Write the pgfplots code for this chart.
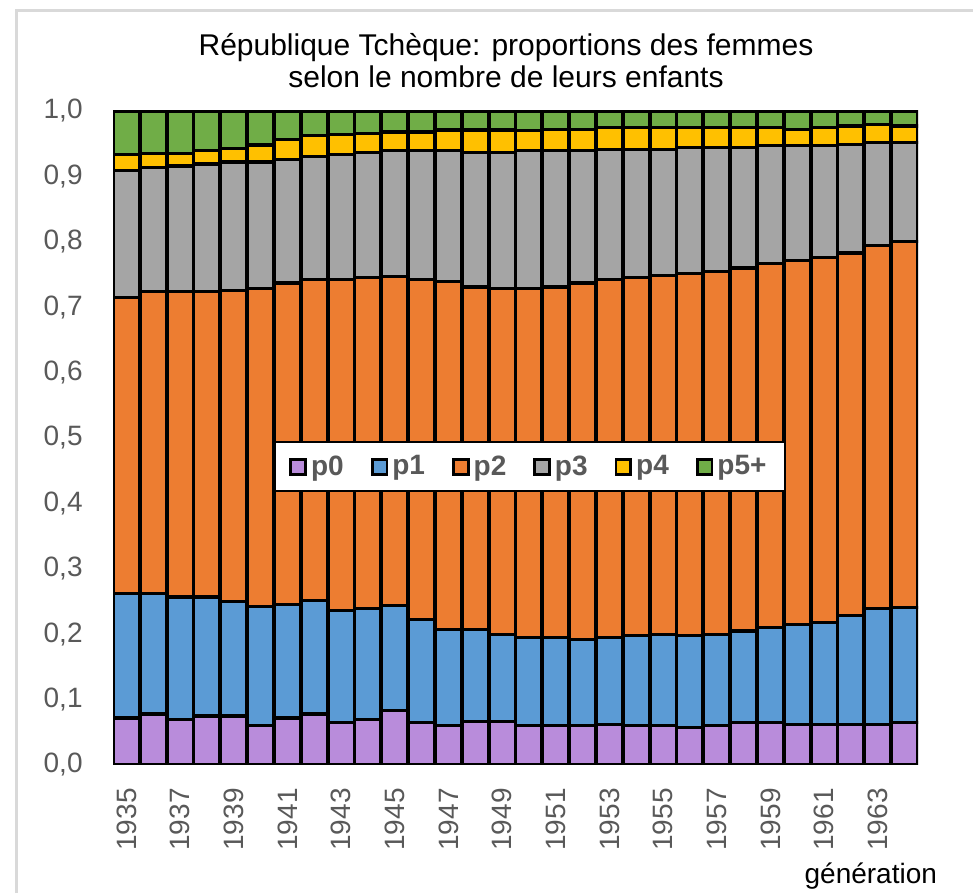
\documentclass[border=0pt]{standalone}
\usepackage{fontspec}
\setmainfont{Liberation Sans}
\usepackage{pgfplots}
\usepackage{pgfplotstable}
\pgfplotsset{compat=1.18}
\definecolor{cp0}{HTML}{B98CDB}
\definecolor{cp1}{HTML}{5B9BD5}
\definecolor{cp2}{HTML}{ED7D31}
\definecolor{cp3}{HTML}{A5A5A5}
\definecolor{cp4}{HTML}{FFC000}
\definecolor{cp5}{HTML}{70AD47}
\definecolor{txt}{HTML}{595959}
\definecolor{framec}{HTML}{D9D9D9}
\definecolor{axl}{HTML}{B0B0B0}
\pgfplotstableread{
year p0 p1 p2 p3 p4 p5
1935 0.072 0.190 0.453 0.194 0.024 0.067
1936 0.078 0.184 0.462 0.190 0.021 0.065
1937 0.070 0.187 0.467 0.192 0.019 0.065
1938 0.075 0.182 0.467 0.195 0.021 0.060
1939 0.075 0.175 0.476 0.196 0.021 0.057
1940 0.060 0.182 0.487 0.193 0.026 0.052
1941 0.072 0.174 0.491 0.189 0.030 0.044
1942 0.078 0.173 0.491 0.189 0.031 0.038
1943 0.065 0.171 0.506 0.192 0.030 0.036
1944 0.070 0.169 0.506 0.191 0.030 0.034
1945 0.083 0.161 0.503 0.192 0.029 0.032
1946 0.065 0.158 0.519 0.197 0.029 0.032
1947 0.060 0.147 0.532 0.200 0.032 0.029
1948 0.067 0.140 0.524 0.206 0.034 0.029
1949 0.067 0.133 0.529 0.208 0.034 0.029
1950 0.060 0.135 0.534 0.210 0.031 0.030
1951 0.060 0.135 0.536 0.208 0.033 0.028
1952 0.060 0.132 0.545 0.202 0.033 0.028
1953 0.062 0.133 0.547 0.199 0.034 0.025
1954 0.060 0.138 0.547 0.196 0.034 0.025
1955 0.060 0.140 0.549 0.192 0.034 0.025
1956 0.057 0.141 0.554 0.192 0.031 0.025
1957 0.060 0.140 0.555 0.189 0.031 0.025
1958 0.065 0.140 0.555 0.184 0.031 0.025
1959 0.065 0.145 0.557 0.180 0.028 0.025
1960 0.062 0.153 0.556 0.176 0.025 0.028
1961 0.062 0.156 0.558 0.171 0.028 0.025
1962 0.062 0.166 0.555 0.166 0.028 0.023
1963 0.062 0.177 0.555 0.158 0.027 0.021
1964 0.065 0.176 0.560 0.151 0.025 0.023
}\data
\begin{document}
\begin{tikzpicture}[x=1pt,y=1pt]
\useasboundingbox (0,0) rectangle (486.5,446.5);
\draw[framec, line width=1.5pt] (8,0) -- (8,441) -- (486.5,441);
\node[anchor=base, font=\fontsize{15}{18}\selectfont] at (253,418.5) {République Tchèque: proportions des femmes};
\node[anchor=base, font=\fontsize{15}{18}\selectfont] at (253,402.5) {selon le nombre de leurs enfants};
\node[anchor=base east, font=\fontsize{14}{16}\selectfont] at (472,5) {génération};
\begin{axis}[
  at={(56.5pt,64pt)}, anchor=south west, scale only axis,
  width=402.5pt, height=327pt,
  xmin=1934.5, xmax=1964.5, ymin=0, ymax=1,
  ybar stacked, bar width=0.98,
  axis line style={draw=none},
  major tick length=0pt,
  xtick={1935,1937,1939,1941,1943,1945,1947,1949,1951,1953,1955,1957,1959,1961,1963},
  xticklabels={1935,1937,1939,1941,1943,1945,1947,1949,1951,1953,1955,1957,1959,1961,1963},
  ytick={0,0.1,0.2,0.3,0.4,0.5,0.6,0.7,0.8,0.9,1},
  yticklabels={{0,0},{0,1},{0,2},{0,3},{0,4},{0,5},{0,6},{0,7},{0,8},{0,9},{1,0}},
  ticklabel style={font=\fontsize{14}{16}\selectfont, text=txt, inner sep=0pt},
  yticklabel style={anchor=east},
  yticklabel shift=15pt,
  xticklabel style={rotate=90, anchor=east},
  xticklabel shift=11.5pt,
  every axis plot post/.append style={draw=black, line width=1.6pt,
    legend image code/.code={\draw[##1, line width=1.4pt] (0pt,-3.7pt) rectangle (7.4pt,3.7pt);}},
  legend columns=6,
  legend style={at={(0.518,0.456)}, anchor=center, draw=black, line width=1pt, fill=white,
    font=\bfseries\fontsize{14}{16}\selectfont, text=txt,
    inner xsep=7pt, inner ysep=4.5pt,
    /tikz/every even column/.append style={column sep=11.5pt}},
]
\addplot[fill=cp0] table[x=year, y=p0] {\data};
\addplot[fill=cp1] table[x=year, y=p1] {\data};
\addplot[fill=cp2] table[x=year, y=p2] {\data};
\addplot[fill=cp3] table[x=year, y=p3] {\data};
\addplot[fill=cp4] table[x=year, y=p4] {\data};
\addplot[fill=cp5] table[x=year, y=p5] {\data};
\legend{p0,p1,p2,p3,p4,p5+}
\draw[axl, line width=1.4pt] (rel axis cs:0,1) -- (rel axis cs:0,0) -- (rel axis cs:1,0);
\draw[framec, line width=1pt] (rel axis cs:0,1) -- (rel axis cs:1,1);
\end{axis}
\end{tikzpicture}
\end{document}
